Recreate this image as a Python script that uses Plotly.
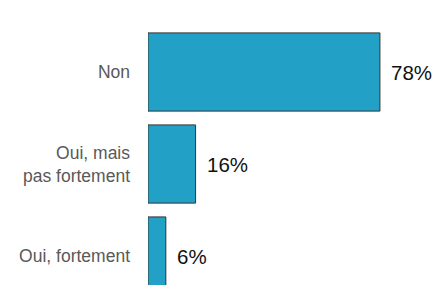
import plotly.graph_objects as go

categories = ["Non", "Oui, mais<br>pas fortement", "Oui, fortement"]
values = [78, 16, 6]
labels = ["78%", "16%", "6%"]

fig = go.Figure()
fig.add_trace(go.Bar(
    x=values, y=categories, orientation="h",
    marker=dict(color="#22a0c6", line=dict(color="#333333", width=1)),
    hoverinfo="skip",
))
for v, c, t in zip(values, categories, labels):
    fig.add_annotation(x=v, y=c, xref="x", yref="y", text=t, showarrow=False,
                       xanchor="left", xshift=9, font=dict(size=20.5, color="#111111"))

fig.update_layout(
    width=432, height=277,
    margin=dict(l=140, r=0, t=18, b=0),
    paper_bgcolor="white", plot_bgcolor="white",
    font=dict(family="Liberation Sans, Arial, sans-serif"),
    bargap=0.15, showlegend=False,
    xaxis=dict(range=[0, 98.2], visible=False, fixedrange=True),
    yaxis=dict(range=[2.315, -0.5], showgrid=False, zeroline=False, showline=False,
               ticks="", ticklabelstandoff=17,
               tickfont=dict(size=17.5, color="#595959"), fixedrange=True),
)
fig.write_html("out.html", config={"displayModeBar": False})
